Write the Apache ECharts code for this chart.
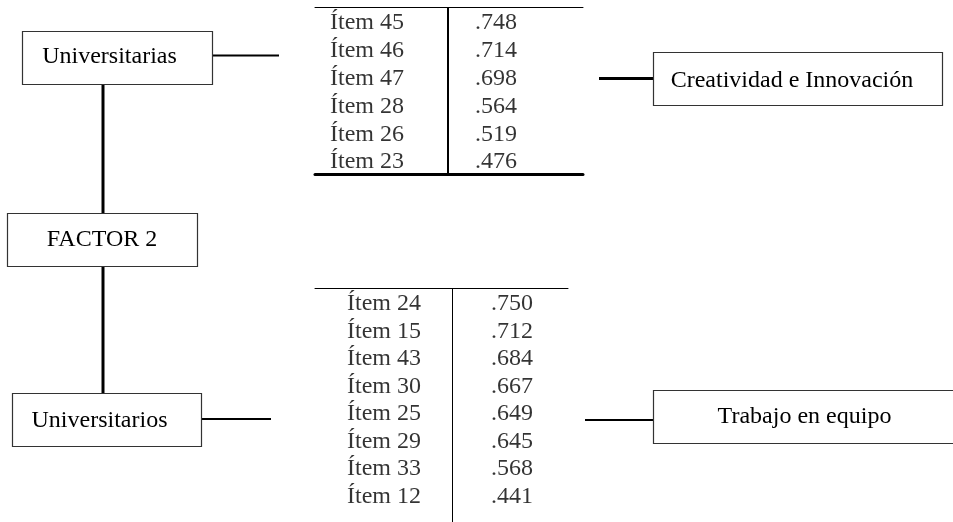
<!DOCTYPE html>
<html><head><meta charset="utf-8">
<script src="https://cdn.jsdelivr.net/npm/echarts@6/dist/echarts.min.js"></script>
<style>html,body{margin:0;padding:0;background:#fff}#c{width:953px;height:522px}</style>
</head><body><div id="c"></div>
<script>
// ---- data ----
const topItems = ['Ítem 45', 'Ítem 46', 'Ítem 47', 'Ítem 28', 'Ítem 26', 'Ítem 23'];
const topLoadings = [0.748, 0.714, 0.698, 0.564, 0.519, 0.476];
const bottomItems = ['Ítem 24', 'Ítem 15', 'Ítem 43', 'Ítem 30', 'Ítem 25', 'Ítem 29', 'Ítem 33', 'Ítem 12'];
const bottomLoadings = [0.750, 0.712, 0.684, 0.667, 0.649, 0.645, 0.568, 0.441];
const factorLabel = 'FACTOR 2';
const groupLabels = ['Universitarias', 'Universitarios'];
const dimensionLabels = ['Creatividad e Innovación', 'Trabajo en equipo'];

// ---- layout ----
const FONT = '"Liberation Serif","Times New Roman",serif';
const FS = 24;
const fmt = v => v.toFixed(3).replace(/^0/, '');

const chart = echarts.init(document.getElementById('c'), null, {renderer: 'canvas'});

const hidden = {show: false};

function labelSeries(gridIdx, items, colX, align, formatter, markX, markW) {
  const s = {
    type: 'scatter',
    xAxisIndex: gridIdx === 0 ? 0 : 2,
    yAxisIndex: gridIdx,
    symbolSize: 0,
    silent: true,
    itemStyle: {color: 'rgba(0,0,0,0)'},
    data: items.map((_, i) => [colX, i]),
    label: {
      show: true, position: [0, 0], offset: [0, 2], align: align, verticalAlign: 'middle',
      fontFamily: FONT, fontSize: FS, color: '#000',
      formatter: formatter
    }
  };
  if (markX != null) {
    s.markLine = {
      symbol: 'none', silent: true, animation: false,
      label: {show: false},
      lineStyle: {color: '#000', width: markW, type: 'solid'},
      data: [{xAxis: markX}]
    };
  }
  return s;
}

const rule = (w) => ({show: true, onZero: false, lineStyle: {color: '#000', width: w}});
const boxText = (x, y, t) => ({type: 'text', x: x, y: y, style: {text: t, textAlign: 'center', textVerticalAlign: 'middle', fill: '#000', font: FS + 'px ' + FONT}});
const box = (x, y, w, h) => ({type: 'rect', shape: {x: x, y: y, width: w, height: h}, style: {fill: '#fff', stroke: '#333', lineWidth: 1.2}});
const seg = (x1, y1, x2, y2, w) => ({type: 'line', shape: {x1: x1, y1: y1, x2: x2, y2: y2}, style: {stroke: '#000', lineWidth: w}});

const option = {
  animation: false,
  backgroundColor: '#fff',
  grid: [
    {left: 315, top: 7, width: 268, height: 167},
    {left: 315, top: 288, width: 253, height: 234}
  ],
  xAxis: [
    {gridIndex: 0, type: 'value', min: 0, max: 268, position: 'top', axisLine: rule(1), axisTick: hidden, axisLabel: hidden, splitLine: hidden},
    {gridIndex: 0, type: 'value', min: 0, max: 268, position: 'bottom', axisLine: rule(3), axisTick: hidden, axisLabel: hidden, splitLine: hidden},
    {gridIndex: 1, type: 'value', min: 0, max: 253, position: 'top', axisLine: rule(1), axisTick: hidden, axisLabel: hidden, splitLine: hidden}
  ],
  yAxis: [
    {gridIndex: 0, type: 'value', inverse: true, min: -0.5, max: topItems.length - 0.5, show: false},
    {gridIndex: 1, type: 'value', inverse: true, min: -0.5, max: bottomItems.length, show: false}
  ],
  series: [
    labelSeries(0, topItems, 15, 'left', p => topItems[p.dataIndex], 133, 2),
    labelSeries(0, topLoadings, 160, 'left', p => fmt(topLoadings[p.dataIndex])),
    labelSeries(1, bottomItems, 69, 'center', p => bottomItems[p.dataIndex], 137, 1),
    labelSeries(1, bottomLoadings, 176, 'left', p => fmt(bottomLoadings[p.dataIndex]))
  ],
  graphic: [
    seg(103, 84, 103, 213, 3),
    seg(103, 266, 103, 393, 3),
    seg(212, 55.5, 279, 55.5, 2),
    seg(599, 78.5, 653, 78.5, 3),
    seg(201, 419, 271, 419, 2),
    seg(585, 420, 653, 420, 2),
    box(22.5, 31.5, 190, 53), boxText(109.5, 57, groupLabels[0]),
    box(7.5, 213.5, 190, 53), boxText(102, 240, factorLabel),
    box(12.5, 393.5, 189, 53), boxText(99.5, 420.5, groupLabels[1]),
    box(653.5, 52.5, 289, 53), boxText(792, 81, dimensionLabels[0]),
    box(653.5, 390.5, 305, 53), boxText(804.5, 416.5, dimensionLabels[1])
  ]
};
chart.setOption(option);
</script>
</body></html>
